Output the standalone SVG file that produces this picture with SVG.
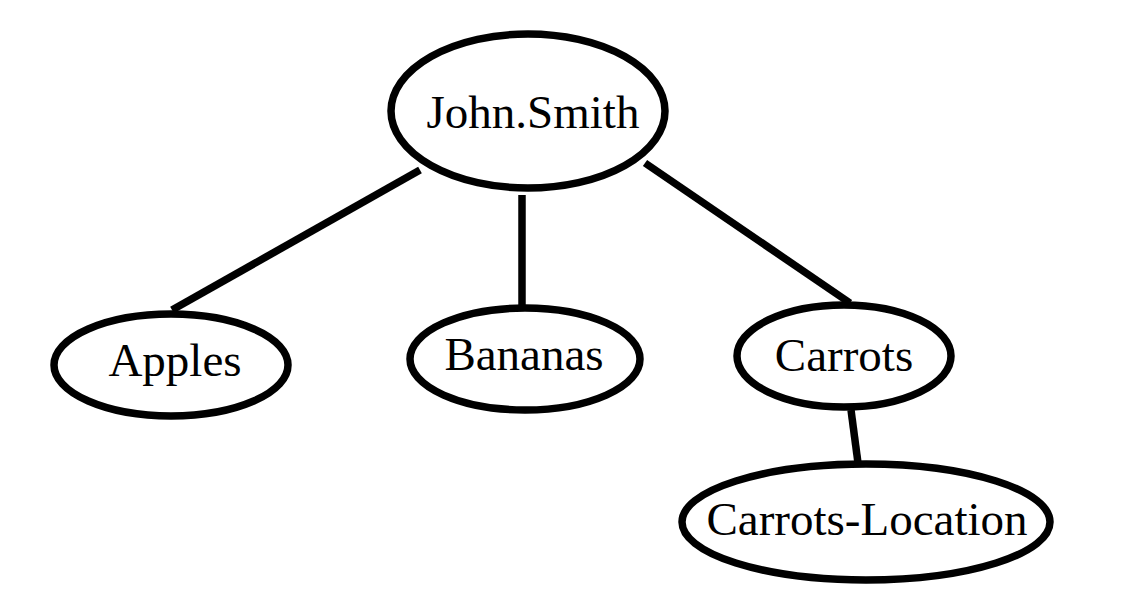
<svg xmlns="http://www.w3.org/2000/svg" width="1124" height="609" viewBox="0 0 1124 609">
<style>
.n{fill:#fff;stroke:#000;stroke-width:7.5}
.e{stroke:#000;stroke-width:7.5;fill:none}
text{font-family:"Liberation Serif","Times New Roman",serif;font-size:47px;text-anchor:middle;fill:#000}
</style>
<rect width="1124" height="609" fill="#fff"/>
<g id="connectors">
<line class="e" x1="420" y1="170" x2="172" y2="310"/>
<line class="e" x1="522" y1="195" x2="522" y2="307"/>
<line class="e" x1="645" y1="163" x2="850" y2="303"/>
<line class="e" x1="851" y1="410" x2="858" y2="463"/>
</g>
<g id="john">
<ellipse class="n" cx="528" cy="111" rx="137" ry="77"/>
<text x="533" y="128">John.Smith</text>
</g>
<g id="apples">
<ellipse class="n" cx="171" cy="365" rx="117" ry="51"/>
<text x="175" y="376">Apples</text>
</g>
<g id="bananas">
<ellipse class="n" cx="525" cy="359" rx="115" ry="51"/>
<text x="524" y="370">Bananas</text>
</g>
<g id="carrots">
<ellipse class="n" cx="844" cy="356" rx="107" ry="51"/>
<text x="844" y="371">Carrots</text>
</g>
<g id="carrots-location">
<ellipse class="n" cx="866" cy="522" rx="184" ry="58"/>
<text x="867" y="535">Carrots-Location</text>
</g>
</svg>
